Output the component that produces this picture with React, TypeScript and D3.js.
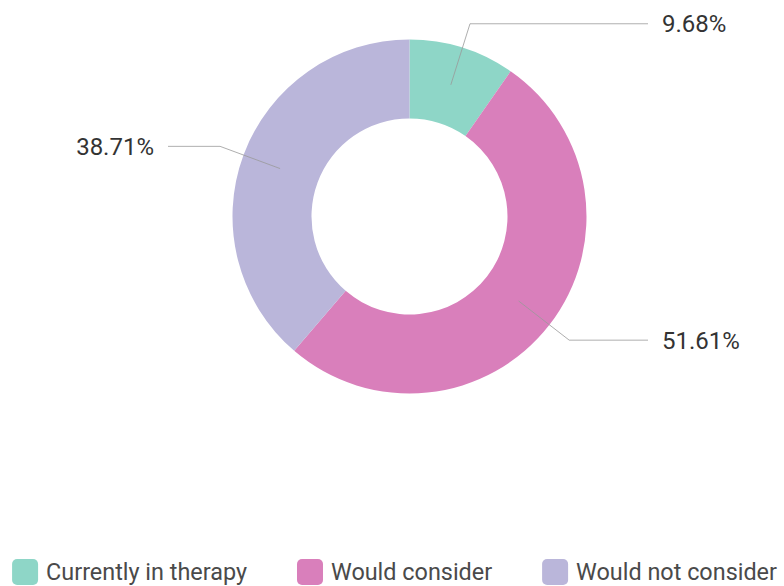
import React, { useEffect, useRef } from "react";
import * as d3 from "d3";

const categories = ["Currently in therapy", "Would consider", "Would not consider"];
const values = [9.68, 51.61, 38.71];
const labels = ["9.68%", "51.61%", "38.71%"];
const colors = ["#8ed6c7", "#d97fbb", "#bab6da"];

const W = 784;
const H = 586;

export default function App() {
  const ref = useRef<SVGSVGElement>(null);
  useEffect(() => {
    const svg = d3.select(ref.current);
    svg.selectAll("*").remove();
    const cx = 409.5, cy = 216.5, R = 177, r = 98;
    const font = "Roboto, 'Noto Sans', sans-serif";
    const pie = d3.pie<number>().sort(null).value((d) => d);
    const arcs = pie(values);
    const arc = d3.arc<d3.PieArcDatum<number>>().innerRadius(r).outerRadius(R);
    const g = svg.append("g").attr("transform", `translate(${cx},${cy})`);
    g.selectAll("path.slice")
      .data(arcs)
      .enter()
      .append("path")
      .attr("class", "slice")
      .attr("d", arc as any)
      .attr("fill", (_d, i) => colors[i]);

    const startR = 138, elbowR = 202, hx = 240, textGap = 14;
    arcs.forEach((a, i) => {
      const m = (a.startAngle + a.endAngle) / 2;
      const sx = Math.sin(m) * startR, sy = -Math.cos(m) * startR;
      const ex = Math.sin(m) * elbowR, ey = -Math.cos(m) * elbowR;
      const right = Math.sin(m) >= 0;
      const lx = right ? hx - 1.5 : -hx - 1.5;
      g.append("polyline")
        .attr("points", `${sx},${sy} ${ex},${ey} ${lx},${ey}`)
        .attr("fill", "none")
        .attr("stroke", "#9a9a9a")
        .attr("stroke-opacity", 0.8)
        .attr("stroke-width", 1);
      g.append("text")
        .attr("x", right ? lx + textGap : lx - textGap)
        .attr("y", ey)
        .attr("dy", "0.35em")
        .attr("text-anchor", right ? "start" : "end")
        .attr("font-family", font)
        .attr("font-size", 24)
        .attr("fill", "#333")
        .text(labels[i]);
    });

    // legend
    const lg = svg.append("g");
    const sw = 26, tGap = 8, itemGap = 50;
    const items = categories.map((c, i) => {
      const it = lg.append("g");
      it.append("rect")
        .attr("width", sw)
        .attr("height", sw)
        .attr("rx", 5)
        .attr("fill", colors[i]);
      const t = it.append("text")
        .attr("x", sw + tGap)
        .attr("y", sw / 2)
        .attr("dy", "0.35em")
        .attr("font-family", font)
        .attr("font-size", 23.4)
        .attr("fill", "#4a4a4a")
        .text(c);
      const tw = (t.node() as SVGTextElement).getComputedTextLength();
      return { it, w: sw + tGap + tw };
    });
    const total = items.reduce((s, d) => s + d.w, 0) + itemGap * (items.length - 1);
    let x = 394.5 - total / 2;
    items.forEach((d) => {
      d.it.attr("transform", `translate(${x},559)`);
      x += d.w + itemGap;
    });
  }, []);
  return (
    <svg ref={ref} width={W} height={H} style={{ position: "absolute", left: 0, top: 0, background: "#fff" }} />
  );
}
